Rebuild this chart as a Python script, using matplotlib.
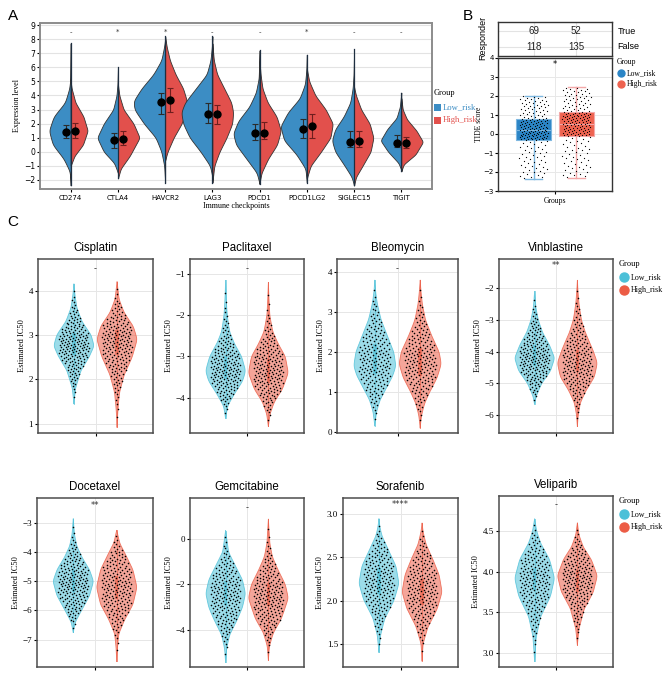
import matplotlib
matplotlib.use("Agg")
import matplotlib.pyplot as plt
from matplotlib.lines import Line2D
from matplotlib.transforms import Bbox
import numpy as np

W, H = 669, 680
SERIF = "Liberation Serif"
SANS = "Liberation Sans"

# ---------------- data: panel A (split violins) ----------------
genes = ["CD274", "CTLA4", "HAVCR2", "LAG3", "PDCD1", "PDCD1LG2", "SIGLEC15", "TIGIT"]
sig_a = ["-", "*", "*", "-", "-", "*", "-", "-"]
# outline knots (value, half-width) for each half
low_shape_a = [
    [(-2.4, 0), (-1.4, .02), (-.5, .15), (.5, .38), (1.5, .46), (2.5, .36), (3.5, .12), (4.5, .03), (5.1, .01), (7.7, 0)],
    [(-1.5, 0), (-.8, .08), (0, .3), (1.0, .44), (2, .3), (3, .1), (4, .03), (4.8, .01), (6.0, 0)],
    [(-2.2, 0), (-1, .02), (0, .08), (1, .2), (2, .45), (3, .65), (3.6, .67), (4.5, .5), (5.5, .25), (6.5, .08), (7.5, .02), (8.0, 0)],
    [(-1.8, 0), (-1, .05), (0, .25), (1, .48), (2, .62), (2.8, .66), (3.5, .58), (4.5, .35), (5.5, .12), (6.5, .04), (7.5, .01), (8.2, 0)],
    [(-2.3, 0), (-1.5, .06), (-.5, .28), (.5, .5), (1.3, .56), (2.2, .45), (3.2, .22), (4.2, .08), (5.2, .02), (7.2, 0)],
    [(-2.2, 0), (-1.2, .03), (-.2, .22), (.8, .48), (1.8, .56), (2.8, .4), (3.8, .15), (4.8, .04), (5.8, .01), (6.9, 0)],
    [(-2.4, 0), (-1.8, .05), (-1, .2), (0, .4), (.8, .47), (1.6, .4), (2.5, .22), (3.5, .08), (4.5, .03), (5.5, .01), (7.3, 0)],
    [(-1.3, 0), (-.8, .06), (0, .28), (.8, .44), (1.6, .3), (2.4, .1), (3.2, .03), (4.2, 0)],
]
high_shape_a = [
    [(-1.0, 0), (-.3, .08), (.5, .26), (1.5, .36), (2.5, .27), (3.5, .1), (4.5, .02), (5.0, 0)],
    [(-1.9, 0), (-1.2, .06), (-.3, .25), (1.0, .46), (2, .33), (3, .12), (4, .03), (4.8, 0)],
    [(-.6, 0), (0, .05), (1, .18), (2, .35), (3, .45), (3.6, .46), (4.5, .38), (5.5, .22), (6.5, .1), (7.5, .03), (8.2, 0)],
    [(-2.2, 0), (-1, .04), (0, .15), (1, .3), (2, .42), (2.8, .44), (3.5, .4), (4.5, .25), (5.5, .1), (6.5, .03), (7.7, 0)],
    [(-2.2, 0), (-1.5, .04), (-.5, .18), (.5, .37), (1.5, .45), (2.5, .36), (3.5, .17), (4.5, .06), (5.5, .02), (6.4, 0)],
    [(-1.9, 0), (-1, .08), (0, .3), (1, .5), (2, .55), (3, .4), (4, .18), (5, .05), (5.9, 0)],
    [(-2.4, 0), (-1.8, .04), (-1, .18), (0, .35), (1, .41), (2, .33), (3, .15), (4, .04), (4.6, 0)],
    [(-1.4, 0), (-.9, .05), (-.2, .3), (.7, .46), (1.5, .32), (2.3, .12), (3.0, .03), (3.8, 0)],
]
low_mean_a = [1.4, 0.8, 3.5, 2.7, 1.35, 1.65, 0.7, 0.65]
low_lo_a = [1.0, 0.25, 2.65, 2.05, 0.85, 0.95, 0.35, 0.35]
low_hi_a = [1.9, 1.3, 4.15, 3.45, 2.0, 2.35, 1.45, 1.2]
high_mean_a = [1.45, 0.9, 3.7, 2.7, 1.35, 1.85, 0.75, 0.6]
high_lo_a = [1.0, 0.45, 2.8, 1.95, 0.9, 1.0, 0.35, 0.3]
high_hi_a = [2.05, 1.5, 4.5, 3.35, 2.1, 2.7, 1.5, 1.05]

# ---------------- data: panel B ----------------
resp_rows = ["False", "True"]
resp_low = [118, 69]
resp_high = [135, 52]
# whisker low, q1, median, q3, whisker high
tide_low = [-2.35, -0.3, 0.2, 0.8, 2.0]
tide_high = [-2.3, -0.1, 0.55, 1.15, 2.45]

# ---------------- data: panel C ----------------
drugs = ["Cisplatin", "Paclitaxel", "Bleomycin", "Vinblastine",
         "Docetaxel", "Gemcitabine", "Sorafenib", "Veliparib"]
sig_c = ["-", "-", "-", "**", "**", "-", "****", "-"]
sig_c_y = [4.49, -0.87, 4.09, -1.3, -2.4, 1.35, 3.11, 4.82]
ylims_c = [(0.79, 4.71), (-4.86, -0.63), (-0.03, 4.33), (-6.56, -1.08),
           (-7.94, -2.14), (-5.6, 1.77), (1.23, 3.19), (2.83, 4.93)]
yticks_c = [[1, 2, 3, 4], [-4, -3, -2, -1], [0, 1, 2, 3, 4], [-6, -5, -4, -3, -2],
            [-7, -6, -5, -4, -3], [-4, -2, 0], [1.5, 2.0, 2.5, 3.0], [3.0, 3.5, 4.0, 4.5]]
# relative outline knots (value, fraction of max half-width)
low_shape_c = [
    [(1.45, 0), (1.8, .08), (2.2, .35), (2.5, .75), (2.75, 1), (3.0, .85), (3.3, .4), (3.6, .15), (3.9, .05), (4.15, 0)],
    [(-4.5, 0), (-4.2, .1), (-3.9, .45), (-3.6, .85), (-3.35, 1), (-3.0, .8), (-2.7, .45), (-2.4, .2), (-2.0, .08), (-1.6, .03), (-1.15, 0)],
    [(.15, 0), (.5, .08), (.8, .25), (1.1, .55), (1.4, .85), (1.65, 1), (2.0, .9), (2.4, .6), (2.8, .3), (3.2, .12), (3.5, .04), (3.8, 0)],
    [(-5.65, 0), (-5.4, .08), (-5.0, .35), (-4.6, .8), (-4.2, 1), (-3.8, .75), (-3.4, .4), (-3.0, .18), (-2.6, .06), (-2.1, 0)],
    [(-6.75, 0), (-6.4, .1), (-6.0, .4), (-5.5, .8), (-5.0, 1), (-4.6, .8), (-4.2, .45), (-3.8, .18), (-3.4, .06), (-2.85, 0)],
    [(-5.4, 0), (-4.8, .05), (-4.2, .2), (-3.6, .55), (-3.0, .85), (-2.4, 1), (-1.8, .85), (-1.2, .5), (-.6, .15), (.35, 0)],
    [(1.4, 0), (1.6, .08), (1.8, .3), (2.0, .75), (2.2, 1), (2.4, .85), (2.6, .45), (2.75, .15), (2.85, .05), (2.95, 0)],
    [(2.9, 0), (3.2, .08), (3.45, .3), (3.7, .8), (3.92, 1), (4.15, .75), (4.35, .3), (4.5, .1), (4.65, 0)],
]
high_shape_c = [
    [(.92, 0), (1.3, .04), (1.7, .12), (2.1, .35), (2.5, .75), (2.9, 1), (3.2, .8), (3.5, .35), (3.8, .1), (4.2, 0)],
    [(-4.7, 0), (-4.4, .08), (-4.1, .3), (-3.8, .7), (-3.4, 1), (-3.0, .85), (-2.7, .5), (-2.4, .22), (-2.0, .07), (-1.6, .03), (-1.2, 0)],
    [(.1, 0), (.4, .06), (.7, .2), (1.0, .45), (1.35, .8), (1.7, 1), (2.0, .9), (2.4, .55), (2.8, .25), (3.2, .1), (3.5, .04), (3.8, 0)],
    [(-6.35, 0), (-6.0, .04), (-5.6, .15), (-5.2, .45), (-4.8, .85), (-4.35, 1), (-3.9, .75), (-3.4, .4), (-3.0, .2), (-2.5, .08), (-2.1, .03), (-1.75, 0)],
    [(-7.75, 0), (-7.3, .03), (-6.8, .1), (-6.3, .4), (-5.8, .8), (-5.2, 1), (-4.6, .8), (-4.1, .45), (-3.7, .15), (-3.25, 0)],
    [(-5.3, 0), (-4.7, .05), (-4.1, .25), (-3.5, .65), (-2.6, 1), (-2.0, .85), (-1.4, .5), (-.8, .2), (-.2, .07), (.85, 0)],
    [(1.3, 0), (1.5, .05), (1.7, .3), (1.9, .75), (2.1, 1), (2.3, .85), (2.5, .5), (2.65, .2), (2.8, .05), (2.9, 0)],
    [(3.1, 0), (3.3, .08), (3.55, .35), (3.75, .8), (3.95, 1), (4.15, .7), (4.3, .3), (4.45, .08), (4.6, 0)],
]
# inner boxplots: q1, median, q3
low_box_c = [(2.55, 2.8, 3.05), (-3.55, -3.3, -3.0), (1.45, 1.8, 2.2), (-4.45, -4.15, -3.8),
             (-5.35, -5.0, -4.6), (-2.9, -2.4, -1.85), (2.08, 2.23, 2.38), (3.78, 3.92, 4.05)]
high_box_c = [(2.55, 2.85, 3.1), (-3.65, -3.35, -3.05), (1.4, 1.75, 2.1), (-4.65, -4.3, -3.95),
              (-5.6, -5.2, -4.8), (-2.95, -2.45, -1.95), (1.95, 2.1, 2.25), (3.75, 3.88, 4.02)]
n_low = sum(resp_low)
n_high = sum(resp_high)

BLUE_A, RED_A = "#3C8DC4", "#E2504C"
BLUE_B, RED_B = "#2B85C6", "#EE6350"
CYAN, SALMON = "#4CC0D8", "#EC5C45"

fig = plt.figure(figsize=(W / 100, H / 100), dpi=100)


def add_ax(l, t, r, b):
    return fig.add_axes([l / W, 1 - b / H, (r - l) / W, (b - t) / H])


def outline(knots, n=240):
    ys, ws = np.array(knots, dtype=float).T
    yy = np.linspace(ys[0], ys[-1], n)
    ww = np.interp(yy, ys, ws)
    k = np.exp(-0.5 * (np.arange(-10, 11) / 4.0) ** 2)
    ww = np.convolve(np.pad(ww, 10, mode="constant"), k / k.sum(), mode="valid")
    ww[0] = ww[-1] = 0
    return yy, ww


def sample_points(yy, ww, n, center, spread):
    # place n dots along the outline's density (stratified), spread sideways
    cdf = np.cumsum(ww)
    cdf = (cdf - cdf[0]) / (cdf[-1] - cdf[0])
    p = (np.arange(n) + 0.5) / n
    yq = np.interp(p, cdf, yy)
    u = (np.arange(n) * 0.6180339887 + 0.31) % 1.0 * 2 - 1
    loc = np.minimum(np.interp(yq, yy, ww), spread)
    return center + u * loc * 0.92, yq


def frame(ax, color="#4D4D4D", lw=1.0):
    for s in ax.spines.values():
        s.set_color(color)
        s.set_linewidth(lw)


# ================= panel A =================
axA = add_ax(40, 23, 432, 189)
axA.set_xlim(0.35, 8.65)
axA.set_ylim(-2.65, 9.15)
axA.set_yticks(range(-2, 10))
axA.grid(axis="y", color="#E3E3E3", lw=0.8)
axA.set_axisbelow(True)
for i in range(len(genes)):
    x0 = i + 1
    yl, wl = outline(low_shape_a[i])
    yh, wh = outline(high_shape_a[i])
    axA.fill_betweenx(yl, x0 - wl, x0, facecolor=BLUE_A, edgecolor="#333333", lw=0.6, zorder=2)
    axA.fill_betweenx(yh, x0, x0 + wh, facecolor=RED_A, edgecolor="#333333", lw=0.6, zorder=2)
    axA.plot([x0, x0], [min(yl[0], yh[0]), max(yl[-1], yh[-1])], color="#1E2E40", lw=0.9, zorder=3)
    axA.errorbar(x0 - 0.09, low_mean_a[i],
                 yerr=[[low_mean_a[i] - low_lo_a[i]], [low_hi_a[i] - low_mean_a[i]]],
                 fmt="o", color="black", ecolor="#2B2B2B", ms=5, capsize=2.5, elinewidth=0.8,
                 capthick=0.8, zorder=4)
    axA.errorbar(x0 + 0.1, high_mean_a[i],
                 yerr=[[high_mean_a[i] - high_lo_a[i]], [high_hi_a[i] - high_mean_a[i]]],
                 fmt="o", color="black", ecolor="#6E1E1E", ms=5, capsize=2.5, elinewidth=0.8,
                 capthick=0.8, zorder=4)
    axA.text(x0, 8.5, sig_a[i], ha="center", va="center", fontsize=5, color="#333333")
axA.set_xticks(range(1, len(genes) + 1))
axA.set_xticklabels(genes, fontsize=5, family="DejaVu Sans")
axA.tick_params(axis="y", labelsize=5.5, length=2, pad=1.5)
axA.tick_params(axis="x", length=2, pad=2)
axA.set_ylabel("Expression level", family=SERIF, fontsize=5.8, labelpad=2)
axA.set_xlabel("Immune checkpoints", family=SERIF, fontsize=5.8, labelpad=1)
frame(axA, "#8C8C8C", 1.4)

fig.text(434 / W, 1 - 93 / H, "Group", family=SERIF, fontsize=6, va="center")
clip = Bbox.from_extents(0, 0, 479, H)
for k, (lab, col) in enumerate([("Low_risk", BLUE_A), ("High_risk", RED_A)]):
    yk = 1 - (107 + 13 * k) / H
    fig.patches.append(plt.Rectangle((434 / W, yk - 3.5 / H), 7 / W, 7 / H,
                                     transform=fig.transFigure, facecolor=col, edgecolor="none"))
    t = fig.text(443 / W, yk, lab, family=SERIF, fontsize=6.2, color=col, va="center")
    t.set_clip_box(clip)
    t.set_clip_on(True)

# ================= panel B =================
axT = add_ax(498, 22, 612, 56)
axT.set_xlim(0.4, 1.6)
axT.set_ylim(0.4, 2.6)
for x in (0.775, 1.225):
    axT.axvline(x, color="#E3E3E3", lw=0.8)
for y in (1, 2):
    axT.axhline(y, color="#E3E3E3", lw=0.8)
for r, lab in enumerate(resp_rows):
    axT.text(0.775, r + 1, str(resp_low[r]), ha="center", va="center", fontsize=7, family=SANS, color="#222222")
    axT.text(1.225, r + 1, str(resp_high[r]), ha="center", va="center", fontsize=7, family=SANS, color="#222222")
    axT.text(1.05, (r + 1 - 0.4) / 2.2, lab, transform=axT.transAxes, ha="left", va="center",
             fontsize=6.5, family=SANS)
axT.set_xticks([])
axT.set_yticks([])
frame(axT, "#333333", 1.0)
fig.text(483 / W, 1 - 38 / H, "Responder", rotation=90, fontsize=6.5, family=SANS, ha="center", va="center")

axB = add_ax(498, 58, 612, 191)
axB.set_xlim(0.4, 1.6)
axB.set_ylim(-3, 4)
axB.set_yticks(range(-3, 5))
axB.grid(color="#E8E8E8", lw=0.7)
axB.set_axisbelow(True)
for stats, pos, col, wcol in [(tide_low, 0.775, BLUE_B, "#7DB7E0"), (tide_high, 1.225, RED_B, "#F3A8A8")]:
    lo, q1, med, q3, hi = stats
    bw = 0.376
    axB.plot([pos, pos], [lo, q1], color=wcol, lw=1.0, zorder=2)
    axB.plot([pos, pos], [q3, hi], color=wcol, lw=1.0, zorder=2)
    for yv in (lo, hi):
        axB.plot([pos - 0.088, pos + 0.088], [yv, yv], color=wcol, lw=1.0, zorder=2)
    axB.add_patch(plt.Rectangle((pos - bw / 2, q1), bw, q3 - q1, facecolor=col, edgecolor=wcol, lw=0.8, zorder=2))
    axB.plot([pos - bw / 2, pos + bw / 2], [med, med], color=wcol, lw=0.8, zorder=3)
    p = (np.arange(n_low) + 0.5) / n_low
    yq = np.interp(p, [0, .25, .5, .75, 1], stats)
    u = (np.arange(n_low) * 0.6180339887 + 0.17) % 1.0 * 2 - 1
    axB.scatter(pos + u * 0.15, yq, s=0.8, color="black", lw=0, zorder=4)
axB.text(1.0, 3.65, "*", ha="center", va="center", fontsize=6)
axB.set_xticks([1])
axB.set_xticklabels([""])
axB.set_xlabel("Groups", family=SERIF, fontsize=5.5, labelpad=1)
axB.set_ylabel("TIDE score", family=SERIF, fontsize=5.5, labelpad=0)
axB.tick_params(labelsize=5, length=2, pad=1)
frame(axB, "#333333", 1.0)
fig.text(617 / W, 1 - 62 / H, "Group", family=SERIF, fontsize=5.5, va="center")
for k, (lab, col) in enumerate([("Low_risk", BLUE_B), ("High_risk", RED_B)]):
    yk = 1 - (73 + 11 * k) / H
    fig.lines.append(Line2D([621 / W], [yk], marker="o", ms=5, color=col, transform=fig.transFigure))
    fig.text(627 / W, yk, lab, family=SERIF, fontsize=5.5, va="center")

# ================= panel C =================
boxes_c = [(38, 259, 153, 433), (190, 259, 304, 433), (337, 259, 458, 433), (499, 259, 613, 433),
           (37, 498, 153, 667), (190, 498, 304, 667), (343, 498, 458, 667), (499, 496, 613, 667)]
for i, drug in enumerate(drugs):
    l, t, r, b = boxes_c[i]
    ax = add_ax(l, t, r, b)
    ax.set_xlim(0.4, 1.6)
    ax.set_ylim(*ylims_c[i])
    ax.set_yticks(yticks_c[i])
    if i >= 6:
        ax.set_yticklabels([f"{v:.1f}" for v in yticks_c[i]])
    ax.set_xticks([1])
    ax.set_xticklabels([""])
    ax.grid(color="#E6E6E6", lw=0.7)
    ax.set_axisbelow(True)
    for shape, box, pos, col, npts in [(low_shape_c[i], low_box_c[i], 0.775, CYAN, n_low),
                                       (high_shape_c[i], high_box_c[i], 1.225, SALMON, n_high)]:
        yy, ww = outline(shape)
        ww = ww / ww.max() * 0.205
        ax.fill_betweenx(yy, pos - ww, pos + ww, facecolor=col, alpha=0.55, edgecolor="none", zorder=2)
        ax.plot(np.r_[pos - ww, (pos + ww)[::-1]], np.r_[yy, yy[::-1]], color=col, lw=0.6, alpha=0.8, zorder=2)
        q1, med, q3 = box
        ax.plot([pos, pos], [yy[0], yy[-1]], color=col, lw=0.7, alpha=0.6, zorder=2)
        ax.add_patch(plt.Rectangle((pos - 0.018, q1), 0.036, q3 - q1, facecolor=col, alpha=0.6,
                                   edgecolor="none", zorder=3))
        xs, ys = sample_points(yy, ww, npts, pos, 0.17)
        ax.scatter(xs, ys, s=1.3, color="black", lw=0, zorder=4)
    ax.text(1.0, sig_c_y[i], sig_c[i], ha="center", va="center", fontsize=6, color="#333333")
    ax.set_title(drug, family=SANS, fontsize=8.3, pad=6)
    ax.set_ylabel("Estimated IC50", family=SERIF, fontsize=6, labelpad=2)
    ax.tick_params(labelsize=6.5, length=2, pad=1.5)
    for lab in ax.get_yticklabels():
        lab.set_family(SERIF)
    frame(ax, "#4D4D4D", 1.1)

for ytop in (264, 501):
    fig.text(619 / W, 1 - ytop / H, "Group", family=SERIF, fontsize=6, va="center")
    for k, (lab, col) in enumerate([("Low_risk", CYAN), ("High_risk", SALMON)]):
        yk = 1 - (ytop + 13 + 13 * k) / H
        fig.lines.append(Line2D([624 / W], [yk], marker="o", ms=6.5, color=col, transform=fig.transFigure))
        fig.text(631 / W, yk, lab, family=SERIF, fontsize=5.8, va="center")

for lab, x, y in [("A", 13, 16), ("B", 468, 16), ("C", 13, 222)]:
    fig.text(x / W, 1 - y / H, lab, family=SANS, fontsize=11, ha="center", va="center")

fig.savefig("out.png", dpi=100, facecolor="white")
